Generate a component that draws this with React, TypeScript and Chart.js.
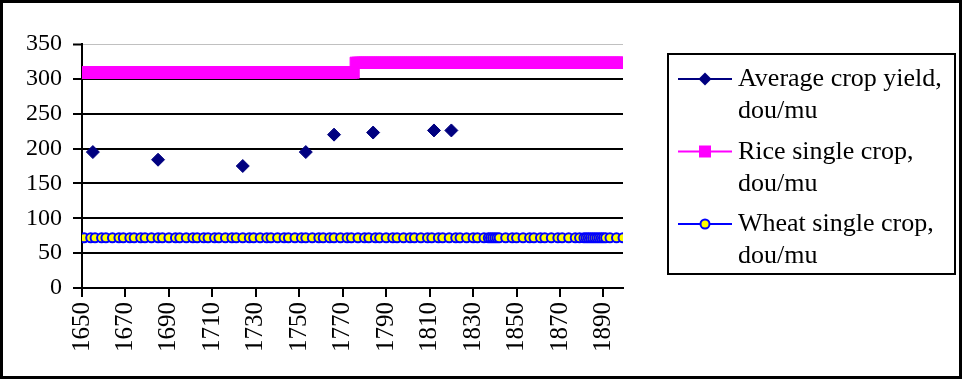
import { useEffect, useRef } from "react";
import { Chart, registerables } from "chart.js";

Chart.register(...registerables);

// ---------- data ----------
const firstYear = 1650;
const lastYear = 1899;
const years: number[] = [];
for (let y = firstYear; y <= lastYear; y++) years.push(y);

const xTickLabels = [1650, 1670, 1690, 1710, 1730, 1750, 1770, 1790, 1810, 1830, 1850, 1870, 1890];

const seriesNames = [
  "Average crop yield, dou/mu",
  "Rice single crop, dou/mu",
  "Wheat single crop, dou/mu",
];

const avgYears = [1655, 1685, 1724, 1753, 1766, 1784, 1812, 1820];
const avgValues = [195, 184, 175, 195, 220, 223, 226, 226];

// one value per year, 1650..1899
const riceValues = [
  309, 309, 309, 309, 309, 309, 309, 309, 309, 309, // 1650s
  309, 309, 309, 309, 309, 309, 309, 309, 309, 309, // 1660s
  309, 309, 309, 309, 309, 309, 309, 309, 309, 309, // 1670s
  309, 309, 309, 309, 309, 309, 309, 309, 309, 309, // 1680s
  309, 309, 309, 309, 309, 309, 309, 309, 309, 309, // 1690s
  309, 309, 309, 309, 309, 309, 309, 309, 309, 309, // 1700s
  309, 309, 309, 309, 309, 309, 309, 309, 309, 309, // 1710s
  309, 309, 309, 309, 309, 309, 309, 309, 309, 309, // 1720s
  309, 309, 309, 309, 309, 309, 309, 309, 309, 309, // 1730s
  309, 309, 309, 309, 309, 309, 309, 309, 309, 309, // 1740s
  309, 309, 309, 309, 309, 309, 309, 309, 309, 309, // 1750s
  309, 309, 309, 309, 309, 309, 309, 309, 309, 309, // 1760s
  309, 309, 309, 309, 309, 309, 323, 323, 323, 323, // 1770s
  323, 323, 323, 323, 323, 323, 323, 323, 323, 323, // 1780s
  323, 323, 323, 323, 323, 323, 323, 323, 323, 323, // 1790s
  323, 323, 323, 323, 323, 323, 323, 323, 323, 323, // 1800s
  323, 323, 323, 323, 323, 323, 323, 323, 323, 323, // 1810s
  323, 323, 323, 323, 323, 323, 323, 323, 323, 323, // 1820s
  323, 323, 323, 323, 323, 323, 323, 323, 323, 323, // 1830s
  323, 323, 323, 323, 323, 323, 323, 323, 323, 323, // 1840s
  323, 323, 323, 323, 323, 323, 323, 323, 323, 323, // 1850s
  323, 323, 323, 323, 323, 323, 323, 323, 323, 323, // 1860s
  323, 323, 323, 323, 323, 323, 323, 323, 323, 323, // 1870s
  323, 323, 323, 323, 323, 323, 323, 323, 323, 323, // 1880s
  323, 323, 323, 323, 323, 323, 323, 323, 323, 323, // 1890s
];

// [year, value]
const wheatPoints: [number, number][] = [
  [1651, 72], [1654, 72], [1656, 72], [1659, 72], [1661, 72], [1664, 72], [1667, 72], [1669, 72], [1672, 72], [1674, 72],
  [1677, 72], [1679, 72], [1682, 72], [1685, 72], [1687, 72], [1690, 72], [1693, 72], [1695, 72], [1698, 72], [1701, 72],
  [1703, 72], [1706, 72], [1708, 72], [1711, 72], [1713, 72], [1716, 72], [1719, 72], [1721, 72], [1724, 72], [1727, 72],
  [1729, 72], [1732, 72], [1735, 72], [1737, 72], [1740, 72], [1743, 72], [1745, 72], [1748, 72], [1751, 72], [1753, 72],
  [1756, 72], [1759, 72], [1761, 72], [1764, 72], [1766, 72], [1769, 72], [1772, 72], [1774, 72], [1777, 72], [1780, 72],
  [1782, 72], [1785, 72], [1787, 72], [1790, 72], [1793, 72], [1795, 72], [1798, 72], [1801, 72], [1803, 72], [1806, 72],
  [1809, 72], [1811, 72], [1814, 72], [1816, 72], [1819, 72], [1822, 72], [1824, 72], [1827, 72], [1830, 72], [1832, 72],
  [1835, 72], [1837, 72], [1838, 72], [1839, 72], [1840, 72], [1841, 72], [1842, 72], [1845, 72], [1848, 72], [1850, 72],
  [1853, 72], [1856, 72], [1858, 72], [1861, 72], [1863, 72], [1866, 72], [1869, 72], [1871, 72], [1874, 72], [1877, 72],
  [1879, 72], [1881, 72], [1882, 72], [1883, 72], [1884, 72], [1885, 72], [1886, 72], [1887, 72], [1888, 72], [1889, 72],
  [1890, 72], [1891, 72], [1893, 72], [1896, 72], [1899, 72],
];

// ---------- styles ----------
const FONT = '"Liberation Serif", "Times New Roman", serif';
const NAVY = "#000080";
const MAGENTA = "#FF00FF";
const BLUE = "#0000FF";
const YELLOW = "#FFFF00";

function drawMarker(ctx: CanvasRenderingContext2D, kind: string, x: number, y: number) {
  ctx.save();
  if (kind === "diamond") {
    const r = 6.5;
    ctx.fillStyle = NAVY;
    ctx.beginPath();
    ctx.moveTo(x, y - r);
    ctx.lineTo(x + r, y);
    ctx.lineTo(x, y + r);
    ctx.lineTo(x - r, y);
    ctx.closePath();
    ctx.fill();
  } else if (kind === "square") {
    ctx.fillStyle = MAGENTA;
    ctx.fillRect(x - 6, y - 6, 12, 12);
  } else {
    ctx.fillStyle = YELLOW;
    ctx.strokeStyle = BLUE;
    ctx.lineWidth = 2;
    ctx.beginPath();
    ctx.arc(x, y, 4.5, 0, Math.PI * 2);
    ctx.fill();
    ctx.stroke();
  }
  ctx.restore();
}

const frameAndLegend = {
  id: "frameAndLegend",
  afterDraw(chart: any) {
    const ctx: CanvasRenderingContext2D = chart.ctx;
    ctx.save();
    // outer frame
    ctx.strokeStyle = "#000";
    ctx.lineWidth = 3;
    ctx.strokeRect(1.5, 1.5, 959, 376);
    // legend box
    ctx.lineWidth = 2;
    ctx.strokeRect(668, 54, 287, 220);
    const kinds = ["diamond", "square", "circle"];
    const lineColors = [NAVY, MAGENTA, BLUE];
    ctx.font = `26px ${FONT}`;
    ctx.fillStyle = "#000";
    ctx.textBaseline = "alphabetic";
    ctx.textAlign = "left";
    seriesNames.forEach((name, i) => {
      const cy = 79 + i * 72.5;
      ctx.strokeStyle = lineColors[i];
      ctx.lineWidth = 2;
      ctx.beginPath();
      ctx.moveTo(678, cy);
      ctx.lineTo(732, cy);
      ctx.stroke();
      drawMarker(ctx, kinds[i], 705, cy);
      const idx = name.indexOf(",") + 1;
      const l1 = name.slice(0, idx);
      const l2 = name.slice(idx).trim();
      ctx.fillText(l1, 738, cy + 7);
      ctx.fillText(l2, 738, cy + 39);
    });
    ctx.restore();
  },
};

export default function App() {
  const ref = useRef<HTMLCanvasElement | null>(null);

  useEffect(() => {
    if (!ref.current) return;
    const chart = new Chart(ref.current, {
      type: "line",
      data: {
        datasets: [
          {
            label: seriesNames[0],
            data: avgYears.map((x, i) => ({ x, y: avgValues[i] })),
            showLine: false,
            pointStyle: "rectRot",
            pointRadius: 6.5,
            pointBackgroundColor: NAVY,
            pointBorderColor: NAVY,
            pointBorderWidth: 1,
            borderColor: NAVY,
            backgroundColor: NAVY,
          },
          {
            label: seriesNames[1],
            data: years.map((x, i) => ({ x, y: riceValues[i] })),
            borderColor: MAGENTA,
            borderWidth: 1,
            pointStyle: "rect",
            pointRadius: 8,
            pointBackgroundColor: MAGENTA,
            pointBorderColor: MAGENTA,
            pointBorderWidth: 1,
          },
          {
            label: seriesNames[2],
            data: wheatPoints.map(([x, y]) => ({ x, y })),
            borderColor: BLUE,
            borderWidth: 1,
            pointStyle: "circle",
            pointRadius: 4.5,
            pointBackgroundColor: YELLOW,
            pointBorderColor: BLUE,
            pointBorderWidth: 2,
          },
        ],
      },
      options: {
        animation: false,
        responsive: false,
        devicePixelRatio: 1,
        layout: { padding: { left: 0, top: 44, right: 343, bottom: 0 } },
        plugins: { legend: { display: false }, tooltip: { enabled: false } },
        scales: {
          x: {
            type: "linear",
            min: firstYear,
            max: lastYear,
            afterBuildTicks: (s: any) => {
              s.ticks = xTickLabels.map((v) => ({ value: v }));
            },
            afterFit: (s: any) => {
              s.height = 94;
            },
            grid: {
              drawOnChartArea: false,
              drawTicks: true,
              tickLength: 9,
              tickColor: "#000",
              tickWidth: 2,
              color: "#000",
              lineWidth: 2,
            },
            border: { display: true, color: "#000", width: 2 },
            ticks: {
              autoSkip: false,
              maxRotation: 90,
              minRotation: 90,
              padding: 5,
              color: "#000",
              font: { family: FONT, size: 25 },
              callback: (v: any) => String(v),
            },
          },
          y: {
            min: 0,
            max: 350,
            afterFit: (s: any) => {
              s.width = 82;
            },
            ticks: {
              stepSize: 50,
              padding: 11,
              color: "#000",
              font: { family: FONT, size: 24 },
            },
            grid: {
              color: (c: any) => (c.tick && c.tick.value === 350 ? "#c0c0c0" : "#000"),
              lineWidth: (c: any) => (c.tick && c.tick.value === 350 ? 1 : 2),
              tickColor: "#000",
              tickWidth: 2,
              tickLength: 9,
            },
            border: { display: true, color: "#000", width: 2 },
          },
        },
      },
      plugins: [frameAndLegend],
    });
    return () => chart.destroy();
  }, []);

  return (
    <div style={{ position: "absolute", left: 0, top: 0, width: 966, height: 382, background: "#fff" }}>
      <canvas ref={ref} width={966} height={382} style={{ display: "block", width: 966, height: 382 }} />
    </div>
  );
}
